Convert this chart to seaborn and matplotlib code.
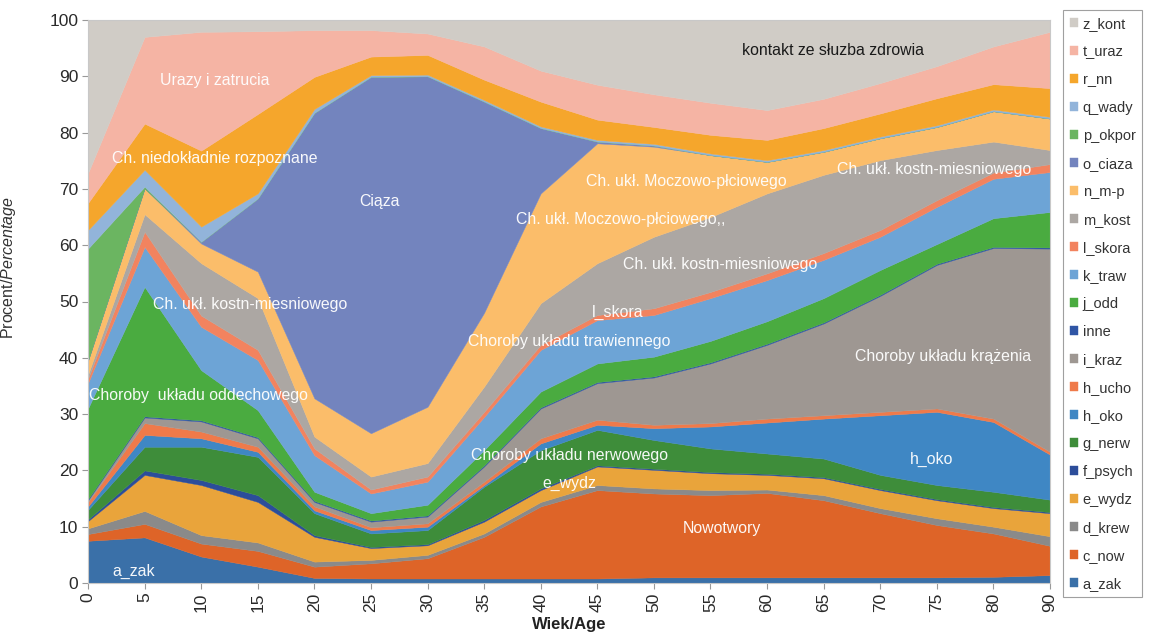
import matplotlib
matplotlib.use('Agg')
import matplotlib.pyplot as plt
import seaborn as sns

# Age groups (categorical axis, note there is no 85)
ages = ['0', '5', '10', '15', '20', '25', '30', '35', '40', '45', '50', '55', '60', '65', '70', '75', '80', '90']

# Share of each cause group (%) per age group, bottom to top of the stack
a_zak    = [7.5, 8.1, 4.7, 2.9, 0.9, 0.8, 0.8, 0.8, 0.8, 0.8, 1.0, 1.0, 1.0, 1.0, 1.0, 1.0, 1.1, 1.4]
c_now    = [1.2, 2.4, 2.3, 2.8, 2.0, 2.7, 3.6, 7.4, 12.8, 15.7, 14.9, 14.6, 15.0, 13.7, 11.4, 9.3, 7.7, 5.2]
d_krew   = [1.0, 2.3, 1.5, 1.5, 0.9, 0.6, 0.6, 0.6, 0.8, 0.9, 0.9, 0.9, 0.6, 0.9, 0.9, 1.2, 1.2, 1.7]
e_wydz   = [1.3, 6.4, 8.9, 7.2, 4.4, 2.1, 1.7, 2.1, 2.1, 3.3, 3.3, 3.0, 2.6, 3.0, 3.2, 3.2, 3.3, 4.1]
f_psych  = [0.3, 0.8, 0.9, 1.2, 0.3, 0.2, 0.2, 0.3, 0.3, 0.2, 0.2, 0.2, 0.2, 0.2, 0.2, 0.2, 0.2, 0.2]
g_nerw   = [1.7, 4.2, 5.9, 6.8, 3.9, 2.4, 2.5, 5.9, 6.8, 6.3, 5.1, 4.2, 3.6, 3.3, 2.5, 2.5, 2.7, 2.2]
h_oko    = [0.6, 2.1, 1.5, 0.9, 0.5, 0.6, 0.6, 0.3, 1.2, 0.9, 2.1, 3.9, 5.5, 7.1, 10.6, 13.0, 12.4, 8.0]
h_ucho   = [0.8, 2.1, 1.2, 0.9, 0.7, 0.5, 0.6, 0.6, 0.9, 0.9, 0.6, 0.6, 0.7, 0.6, 0.6, 0.6, 0.6, 0.5]
i_kraz   = [0.3, 1.0, 1.8, 1.5, 0.8, 1.0, 1.2, 2.7, 5.3, 6.5, 8.4, 10.6, 13.1, 16.3, 20.6, 25.5, 30.3, 36.1]
inne     = [0.2, 0.2, 0.2, 0.2, 0.2, 0.2, 0.2, 0.2, 0.2, 0.2, 0.2, 0.2, 0.2, 0.2, 0.2, 0.2, 0.2, 0.2]
j_odd    = [16.1, 23.0, 8.9, 4.8, 1.6, 1.3, 1.9, 2.7, 2.8, 3.3, 3.5, 3.8, 4.0, 4.3, 4.4, 3.5, 5.1, 6.3]
k_traw   = [4.5, 7.1, 7.7, 8.9, 6.5, 3.5, 4.1, 5.9, 7.4, 7.7, 7.4, 7.6, 7.3, 6.8, 5.9, 6.6, 7.0, 7.1]
l_skora  = [0.8, 2.7, 2.0, 1.8, 1.2, 0.7, 0.9, 0.9, 0.9, 0.9, 1.2, 1.1, 1.2, 1.2, 1.2, 1.2, 1.1, 1.4]
m_kost   = [0.7, 3.1, 9.3, 9.2, 2.1, 2.3, 2.4, 4.5, 7.4, 9.2, 12.7, 13.3, 14.2, 13.9, 12.4, 8.9, 5.5, 2.5]
n_mp     = [2.5, 4.6, 3.5, 4.7, 6.8, 7.7, 10.0, 13.1, 19.5, 21.3, 16.0, 11.0, 5.6, 4.1, 3.9, 4.1, 5.4, 5.6]
o_ciaza  = [0.0, 0.0, 0.3, 13.0, 50.7, 63.3, 58.7, 37.5, 11.6, 0.3, 0.2, 0.0, 0.0, 0.0, 0.0, 0.0, 0.0, 0.0]
p_okpor  = [19.9, 0.3, 0.0, 0.0, 0.0, 0.0, 0.0, 0.0, 0.0, 0.0, 0.0, 0.0, 0.0, 0.0, 0.0, 0.0, 0.0, 0.0]
q_wady   = [3.3, 3.0, 2.7, 0.9, 0.7, 0.3, 0.3, 0.3, 0.3, 0.3, 0.3, 0.3, 0.3, 0.3, 0.3, 0.3, 0.3, 0.3]
r_nn     = [4.8, 8.2, 13.5, 14.1, 5.7, 3.3, 3.5, 3.6, 4.4, 3.6, 3.0, 3.3, 3.6, 3.9, 4.1, 4.8, 4.5, 5.1]
t_uraz   = [5.3, 15.4, 21.1, 14.7, 8.3, 4.7, 3.8, 5.9, 5.5, 6.2, 5.8, 5.7, 5.3, 5.2, 5.4, 5.7, 6.7, 10.0]
z_kont   = [27.2, 3.0, 2.1, 2.0, 1.8, 1.8, 2.4, 4.7, 9.0, 11.5, 13.2, 14.7, 16.0, 14.0, 11.2, 8.2, 4.7, 2.1]

series_names = ['a_zak', 'c_now', 'd_krew', 'e_wydz', 'f_psych', 'g_nerw', 'h_oko', 'h_ucho', 'i_kraz', 'inne',
                'j_odd', 'k_traw', 'l_skora', 'm_kost', 'n_m-p', 'o_ciaza', 'p_okpor', 'q_wady', 'r_nn', 't_uraz', 'z_kont']
series_values = [a_zak, c_now, d_krew, e_wydz, f_psych, g_nerw, h_oko, h_ucho, i_kraz, inne,
                 j_odd, k_traw, l_skora, m_kost, n_mp, o_ciaza, p_okpor, q_wady, r_nn, t_uraz, z_kont]
colors = ['#3a70a8', '#de6428', '#8a8a8a', '#e9a43b', '#2c4d9a', '#3e8d3a', '#3f87c4', '#ef7a4a', '#9e9792', '#2f55a5',
          '#4aab40', '#6da4d6', '#f2835f', '#aca7a3', '#fbbd6a', '#7384be', '#6bb561', '#92b4da', '#f5a62c', '#f5b4a4', '#d0ccc6']

# Theme, then fonts (set_theme resets font.family)
sns.set_theme(style='white')
plt.rcParams['font.family'] = ['Liberation Sans', 'DejaVu Sans']
plt.rcParams['mathtext.fontset'] = 'custom'
plt.rcParams['mathtext.it'] = 'Liberation Sans:italic'
plt.rcParams['mathtext.rm'] = 'Liberation Sans'

fig = plt.figure(figsize=(11.6, 6.35), dpi=100)
ax = fig.add_axes([88 / 1160, 1 - 583 / 635, (1050 - 88) / 1160, (583 - 20) / 635])

x = list(range(len(ages)))
polys = ax.stackplot(x, *series_values, labels=series_names, colors=colors, linewidth=0.3)
for p, c in zip(polys, colors):
    p.set_edgecolor(c)

ax.set_xlim(0, len(ages) - 1)
ax.set_ylim(0, 100)
ax.set_xticks(x)
ax.set_xticklabels(ages, rotation=90, fontsize=12.5, color='#2a2a2a')
ax.set_yticks(range(0, 101, 10))
ax.tick_params(axis='y', labelsize=12.5, labelcolor='#2a2a2a')
ax.tick_params(axis='both', direction='out', length=4, width=0.8, color='#999999', bottom=True, left=True, pad=3)
for s in ax.spines.values():
    s.set_color('#c8c8c8')
    s.set_linewidth(0.8)

ax.set_xlabel('Wiek/Age', fontsize=12, fontweight='bold', color='#222222')
ax.xaxis.set_label_coords(0.5, -0.06)
ax.set_ylabel(r'Procent/$\mathit{Percentage}$', fontsize=11.5, color='#333333')
ax.yaxis.set_label_coords(-0.073, 0.56)

# In-chart annotations (white text over the areas)
notes = [
    ('Urazy i zatrucia', 2.24, 89.2),
    ('Ch. niedokładnie rozpoznane', 2.24, 75.4),
    ('Ciąza', 5.16, 67.7),
    ('Ch. ukł. kostn-miesniowego', 2.87, 49.4),
    ('Choroby  układu oddechowego', 1.96, 33.3),
    ('a_zak', 0.8, 2.0),
    ('Ch. ukł. Moczowo-płciowego', 10.58, 71.3),
    ('Ch. ukł. Moczowo-płciowego,,', 9.42, 64.5),
    ('Ch. ukł. kostn-miesniowego', 11.17, 56.5),
    ('Ch. ukł. kostn-miesniowego', 14.96, 73.4),
    ('l_skora', 9.36, 48.0),
    ('Choroby układu trawiennego', 8.51, 42.9),
    ('Choroby układu krążenia', 15.11, 40.3),
    ('Choroby układu nerwowego', 8.51, 22.7),
    ('e_wydz', 8.51, 17.7),
    ('Nowotwory', 11.2, 9.7),
    ('h_oko', 14.9, 22.0),
]
for txt, nx, ny in notes:
    ax.text(nx, ny, txt, color='white', fontsize=11.4, ha='center', va='center', alpha=0.95)
ax.text(13.16, 94.6, 'kontakt ze słuzba zdrowia', color='#1a1a1a', fontsize=11.4, ha='center', va='center')

# Legend on the right, reversed so z_kont is on top
handles, labels = ax.get_legend_handles_labels()
leg = fig.legend(handles[::-1], labels[::-1], loc='upper left', bbox_to_anchor=(1063 / 1160, 1 - 10 / 635),
                 frameon=True, fontsize=10.5, labelspacing=0.96, handlelength=0.6, handleheight=0.6,
                 handletextpad=0.3, borderpad=0.45, borderaxespad=0)
leg.get_frame().set_edgecolor('#888888')
leg.get_frame().set_linewidth(0.8)
leg.get_frame().set_boxstyle('square', pad=0)
for t in leg.get_texts():
    t.set_color('#333333')

fig.savefig('out.png', dpi=100, facecolor='white')
